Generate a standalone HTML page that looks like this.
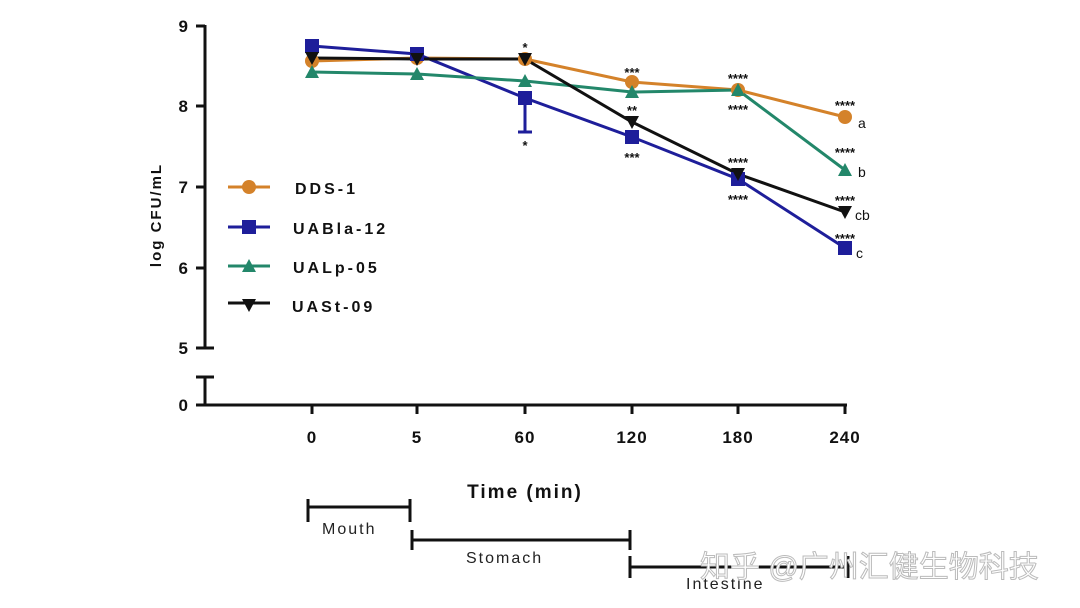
<!DOCTYPE html>
<html><head><meta charset="utf-8"><style>
body{margin:0;background:#fff;}
svg{display:block;}
text{font-family:"Liberation Sans",Arial,sans-serif;font-weight:bold;}
</style></head><body>
<svg width="1080" height="608" viewBox="0 0 1080 608">
<rect width="1080" height="608" fill="#fff"/>
<g stroke="#111" stroke-width="3" fill="none">
<line x1="205" y1="25" x2="205" y2="349"/>
<line x1="205" y1="377" x2="205" y2="405"/>
<line x1="196" y1="377" x2="214" y2="377"/>
<line x1="196" y1="26" x2="205" y2="26"/>
<line x1="196" y1="106" x2="205" y2="106"/>
<line x1="196" y1="187" x2="205" y2="187"/>
<line x1="196" y1="268" x2="205" y2="268"/>
<line x1="196" y1="348" x2="214" y2="348"/>
<line x1="196" y1="405" x2="847" y2="405"/>
<line x1="312" y1="405" x2="312" y2="414"/>
<line x1="417" y1="405" x2="417" y2="414"/>
<line x1="525" y1="405" x2="525" y2="414"/>
<line x1="632" y1="405" x2="632" y2="414"/>
<line x1="738" y1="405" x2="738" y2="414"/>
<line x1="845" y1="405" x2="845" y2="414"/>
</g>
<g font-size="17" text-anchor="end" fill="#111">
<text x="188" y="32">9</text><text x="188" y="112">8</text><text x="188" y="193">7</text>
<text x="188" y="274">6</text><text x="188" y="354">5</text><text x="188" y="411">0</text>
</g>
<g font-size="17" text-anchor="middle" fill="#111" letter-spacing="1">
<text x="312" y="443">0</text><text x="417" y="443">5</text><text x="525" y="443">60</text>
<text x="632" y="443">120</text><text x="738" y="443">180</text><text x="845" y="443">240</text>
</g>
<text x="0" y="0" font-size="15" fill="#111" letter-spacing="2" text-anchor="middle" transform="translate(161,215) rotate(-90)">log CFU/mL</text>
<text x="525" y="498" font-size="19" text-anchor="middle" fill="#111" letter-spacing="2">Time (min)</text>

<g fill="none" stroke-width="3">
<polyline stroke="#d4822a" points="312,61 417,58 525,59 632,82 738,90 845,117"/>
<polyline stroke="#1e1e9a" points="312,46 417,54 525,98 632,137 738,179 845,248"/>
<polyline stroke="#23876a" points="312,72 417,74 525,81 632,92 738,90 845,170"/>
<polyline stroke="#111" points="312,58 417,59 525,59 632,122 738,174 845,212"/>
</g>
<g stroke-width="3" fill="none">
<line x1="525" y1="98" x2="525" y2="132" stroke="#1e1e9a"/><line x1="518" y1="132" x2="532" y2="132" stroke="#1e1e9a"/>
</g>
<g fill="#d4822a"><circle cx="312" cy="61" r="7"/><circle cx="417" cy="58" r="7"/><circle cx="525" cy="59" r="7"/><circle cx="632" cy="82" r="7"/><circle cx="738" cy="90" r="7"/><circle cx="845" cy="117" r="7"/></g>
<g fill="#1e1e9a"><rect x="305" y="39" width="14" height="14"/><rect x="410" y="47" width="14" height="14"/><rect x="518" y="91" width="14" height="14"/><rect x="625" y="130" width="14" height="14"/><rect x="731" y="172" width="14" height="14"/><rect x="838" y="241" width="14" height="14"/></g>
<g fill="#23876a"><polygon points="312,65 319,78 305,78"/><polygon points="417,67 424,80 410,80"/><polygon points="525,74 532,87 518,87"/><polygon points="632,85 639,98 625,98"/><polygon points="738,83 745,96 731,96"/><polygon points="845,163 852,176 838,176"/></g>
<g fill="#111"><polygon points="305,52 319,52 312,65"/><polygon points="410,53 424,53 417,66"/><polygon points="518,53 532,53 525,66"/><polygon points="625,116 639,116 632,129"/><polygon points="731,168 745,168 738,181"/><polygon points="838,206 852,206 845,219"/></g>
<g font-size="13" fill="#111" text-anchor="middle">
<text x="525" y="52">*</text><text x="525" y="150">*</text>
<text x="632" y="77">***</text><text x="632" y="115">**</text><text x="632" y="162">***</text>
<text x="738" y="83">****</text><text x="738" y="114">****</text><text x="738" y="167">****</text><text x="738" y="204">****</text>
<text x="845" y="110">****</text><text x="845" y="157">****</text><text x="845" y="205">****</text><text x="845" y="243">****</text>
</g>
<g font-size="14" fill="#111">
<text x="858" y="128" style="font-weight:normal">a</text><text x="858" y="177" style="font-weight:normal">b</text>
<text x="855" y="220" style="font-weight:normal">cb</text><text x="856" y="258" style="font-weight:normal">c</text>
</g>
<g stroke-width="3">
<line x1="228" y1="187" x2="270" y2="187" stroke="#d4822a"/><circle cx="249" cy="187" r="7" fill="#d4822a"/>
<line x1="228" y1="227" x2="270" y2="227" stroke="#1e1e9a"/><rect x="242" y="220" width="14" height="14" fill="#1e1e9a"/>
<line x1="228" y1="266" x2="270" y2="266" stroke="#23876a"/><polygon points="249,259 256,272 242,272" fill="#23876a"/>
<line x1="228" y1="303" x2="270" y2="303" stroke="#111"/><polygon points="242,299 256,299 249,312" fill="#111"/>
</g>
<g font-size="16" fill="#111" letter-spacing="3">
<text x="295" y="194">DDS-1</text><text x="293" y="234">UABla-12</text><text x="293" y="273">UALp-05</text><text x="292" y="312">UASt-09</text>
</g>
<g stroke="#111" stroke-width="3">
<line x1="308" y1="507" x2="410" y2="507"/><line x1="308" y1="499" x2="308" y2="522"/><line x1="410" y1="499" x2="410" y2="522"/>
<line x1="412" y1="540" x2="630" y2="540"/><line x1="412" y1="530" x2="412" y2="550"/><line x1="630" y1="530" x2="630" y2="550"/>
<line x1="630" y1="567" x2="848" y2="567"/><line x1="630" y1="556" x2="630" y2="578"/><line x1="848" y1="556" x2="848" y2="578"/>
</g>
<g font-size="16" fill="#222" letter-spacing="2">
<text x="322" y="534" style="font-weight:normal">Mouth</text>
<text x="466" y="563" style="font-weight:normal">Stomach</text>
<text x="686" y="589" style="font-weight:normal">Intestine</text>
</g>
<text x="700" y="577" font-size="30" fill="#fff" stroke="#bbb" stroke-width="1" style="font-family:'Liberation Sans','Noto Sans CJK SC',sans-serif;font-weight:normal">知乎 @广州汇健生物科技</text>
</svg>
</body></html>
